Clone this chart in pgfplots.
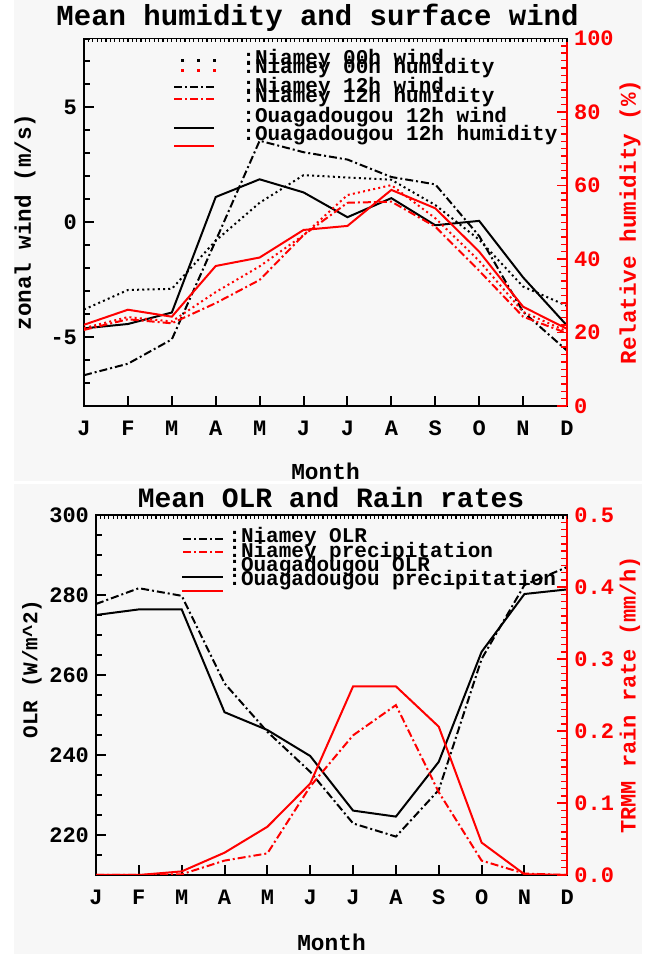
\documentclass[border=0pt]{standalone}
\usepackage{fontspec}
\setmainfont{Liberation Mono}
\usepackage{pgfplots}
\pgfplotsset{compat=1.18}
\definecolor{bg}{HTML}{F7F7F7}
\definecolor{rd}{RGB}{255,0,0}
\newcommand\fs[1]{\fontsize{#1}{#1}\selectfont\bfseries}
\tikzset{
 dotl/.style={line width=1pt, dash pattern=on 1pt off 1.6pt},
 dashdotl/.style={line width=1pt, dash pattern=on 4pt off 1.5pt on 1pt off 1.5pt},
 solidl/.style={line width=1pt},
 tk/.style={black, line width=0.8pt},
}
\pgfplotsset{
 common/.style={scale only axis, anchor=south west, xmin=1, xmax=12,
   /pgf/number format/assume math mode=true,
   tick label style={font=\fs{11}},
   major tick length=5pt, minor tick length=3pt},
 leftax/.style={common, axis line style={line width=0.7pt, black},
   xtick pos=bottom, ytick pos=left,
   xtick={1,...,12}, xticklabels={J,F,M,A,M,J,J,A,S,O,N,D},
   x tick label style={yshift=-4pt},
   tick align=inside,
   every tick/.style={black, line width=1pt},
   every minor tick/.style={black, line width=1pt}},
 rightax/.style={common, axis x line=none, axis y line*=right,
   axis line style={rd, line width=0.9pt}, yticklabel style={text=rd},
   tick align=inside,
   every tick/.style={rd, line width=0.7pt},
   every minor tick/.style={rd, line width=0.7pt}},
 topax/.style={common, axis x line*=top, axis y line=none,
   axis line style={line width=0.7pt, black},
   xtick={1,1.1,...,12.05}, xticklabels={}, major tick length=1.8pt,
   ymin=0, ymax=1, tick align=inside,
   every tick/.style={black, line width=0.6pt}},
}
\begin{document}
\begin{tikzpicture}
\begin{scope}[x=0.5pt,y=-0.5pt,yshift=477pt]
\fill[white] (0,0) rectangle (648,954);
\fill[bg] (14,0) rectangle (642,481);
\fill[bg] (14,484) rectangle (642,954);
\end{scope}

% ---------------- top panel ----------------
\begin{axis}[leftax, at={(42pt,274pt)}, width=241.5pt, height=183.75pt,
  ymin=-8, ymax=8, ytick={-5,0,5}, minor ytick={-8,...,8}]
\addplot[dotl] coordinates {(1,-3.8) (2,-2.95) (3,-2.9) (4,-0.8) (5,0.85) (6,2.05) (7,1.95) (8,1.85) (9,0.75) (10,-0.76) (11,-2.8) (12,-3.64)};
\addplot[dashdotl] coordinates {(1,-6.66) (2,-6.16) (3,-5.1) (4,-0.8) (5,3.55) (6,3.05) (7,2.73) (8,1.97) (9,1.65) (10,-0.6) (11,-3.9) (12,-5.59)};
\addplot[solidl] coordinates {(1,-4.62) (2,-4.43) (3,-3.93) (4,1.1) (5,1.87) (6,1.3) (7,0.22) (8,1.05) (9,-0.13) (10,0.06) (11,-2.4) (12,-4.5)};
\pgfplotsinvokeforeach{2,...,11}{\draw[tk] (axis cs:#1,-8) -- ++(0pt,3.5pt);}
\pgfplotsinvokeforeach{-7,...,7}{\draw[tk] (axis cs:1,#1) -- ++(3pt,0pt);}
\pgfplotsinvokeforeach{-5,0,5}{\draw[tk] (axis cs:1,#1) -- ++(5pt,0pt);}
\end{axis}
\begin{axis}[rightax, at={(42pt,274pt)}, width=241.5pt, height=183.75pt,
  ymin=0, ymax=100, ytick={0,20,...,100}, minor ytick={0,2,...,100}]
\addplot[dotl, rd] coordinates {(1,21.2) (2,24.2) (3,23.0) (4,31.0) (5,38.0) (6,46.5) (7,57.4) (8,60.1) (9,51.1) (10,39.5) (11,25.6) (12,20.3)};
\addplot[dashdotl, rd] coordinates {(1,20.7) (2,23.6) (3,22.5) (4,28.0) (5,34.3) (6,46.5) (7,55.3) (8,55.6) (9,48.8) (10,36.8) (11,24.3) (12,19.8)};
\addplot[solidl, rd] coordinates {(1,22.1) (2,26.2) (3,24.3) (4,38.1) (5,40.4) (6,47.9) (7,49.0) (8,58.8) (9,53.8) (10,42.0) (11,27.0) (12,21.0)};
\end{axis}
\begin{axis}[topax, at={(42pt,274pt)}, width=241.5pt, height=183.75pt]
\end{axis}

% ---------------- bottom panel ----------------
\begin{axis}[leftax, at={(48pt,39.5pt)}, width=235.65pt, height=180pt,
  ymin=210, ymax=300, ytick={220,240,...,300}, minor ytick={210,215,...,300}]
\addplot[dashdotl] coordinates {(1,277.75) (2,281.7) (3,279.8) (4,257.9) (5,245.8) (6,235.8) (7,222.9) (8,219.6) (9,231.25) (10,264) (11,282.5) (12,287)};
\addplot[solidl] coordinates {(1,275) (2,276.4) (3,276.4) (4,250.7) (5,246.25) (6,239.75) (7,226.1) (8,224.6) (9,238.3) (10,265.8) (11,280.25) (12,281.4)};
\pgfplotsinvokeforeach{2,...,11}{\draw[tk] (axis cs:#1,210) -- ++(0pt,3.5pt);}
\pgfplotsinvokeforeach{215,220,...,295}{\draw[tk] (axis cs:1,#1) -- ++(3pt,0pt);}
\pgfplotsinvokeforeach{220,240,260,280}{\draw[tk] (axis cs:1,#1) -- ++(5pt,0pt);}
\end{axis}
\begin{axis}[rightax, at={(48pt,39.5pt)}, width=235.65pt, height=180pt,
  ymin=0, ymax=0.5, ytick={0,0.1,0.2,0.3,0.4,0.5}, minor ytick={0,0.01,...,0.5},
  yticklabel style={/pgf/number format/.cd, fixed, fixed zerofill, precision=1}]
\addplot[dashdotl, rd] coordinates {(1,0) (2,0) (3,0.001) (4,0.02) (5,0.03) (6,0.123) (7,0.194) (8,0.236) (9,0.115) (10,0.02) (11,0.002) (12,0)};
\addplot[solidl, rd] coordinates {(1,0) (2,0) (3,0.005) (4,0.031) (5,0.067) (6,0.127) (7,0.262) (8,0.262) (9,0.206) (10,0.045) (11,0.001) (12,0)};
\end{axis}
\begin{axis}[topax, at={(48pt,39.5pt)}, width=235.65pt, height=180pt]
\end{axis}

\begin{scope}[x=0.5pt,y=-0.5pt,yshift=477pt]
% titles and labels
\node[font=\fs{14.5}] at (317.5,18) {Mean humidity and surface wind};
\node[font=\fs{14}] at (331,497) {Mean OLR and Rain rates};
\node[font=\fs{11.4}] at (325.5,471) {Month};
\node[font=\fs{11.4}] at (331.5,942) {Month};
\node[rotate=90, font=\fs{11.3}] at (25,222) {zonal wind (m/s)};
\node[rotate=90, font=\fs{11.3}, text=rd] at (630,222) {Relative humidity (\%)};
\node[rotate=90, font=\fs{10.5}] at (32,669) {OLR (W/m\textasciicircum 2)};
\node[rotate=90, font=\fs{11}, text=rd] at (630,695) {TRMM rain rate (mm/h)};
% top legend
\begin{scope}[every node/.style={anchor=west, inner sep=0pt, font=\fs{10.5}}]
\node at (242,59) {:Niamey 00h wind};
\node at (242,68) {:Niamey 00h humidity};
\node at (242,87) {:Niamey 12h wind};
\node at (242,97) {:Niamey 12h humidity};
\node at (242,117) {:Ouagadougou 12h wind};
\node at (242,135) {:Ouagadougou 12h humidity};
\end{scope}
\draw[line width=1.5pt, dash pattern=on 1.5pt off 6.5pt] (181,61) -- (220,61);
\draw[rd, line width=1.5pt, dash pattern=on 1.5pt off 6.5pt] (181,71) -- (220,71);
\draw[dashdotl] (174,87) -- (214,87);
\draw[dashdotl, rd] (174,99) -- (214,99);
\draw[solidl] (174,128) -- (214,128);
\draw[rd, line width=0.6pt] (174,146) -- (214,146);
% bottom legend
\begin{scope}[every node/.style={anchor=west, inner sep=0pt, font=\fs{10.5}}]
\node at (228,537) {:Niamey OLR};
\node at (228,552) {:Niamey precipitation};
\node at (228,566) {:Ouagadougou OLR};
\node at (228,580) {:Ouagadougou precipitation};
\end{scope}
\draw[dashdotl] (183,539) -- (223,539);
\draw[dashdotl, rd] (183,552) -- (223,552);
\draw[solidl] (182,577) -- (223,577);
\draw[solidl, rd] (182,591) -- (223,591);
\pgfresetboundingbox
\useasboundingbox (0,0) rectangle (648,954);
\end{scope}
\end{tikzpicture}
\end{document}
